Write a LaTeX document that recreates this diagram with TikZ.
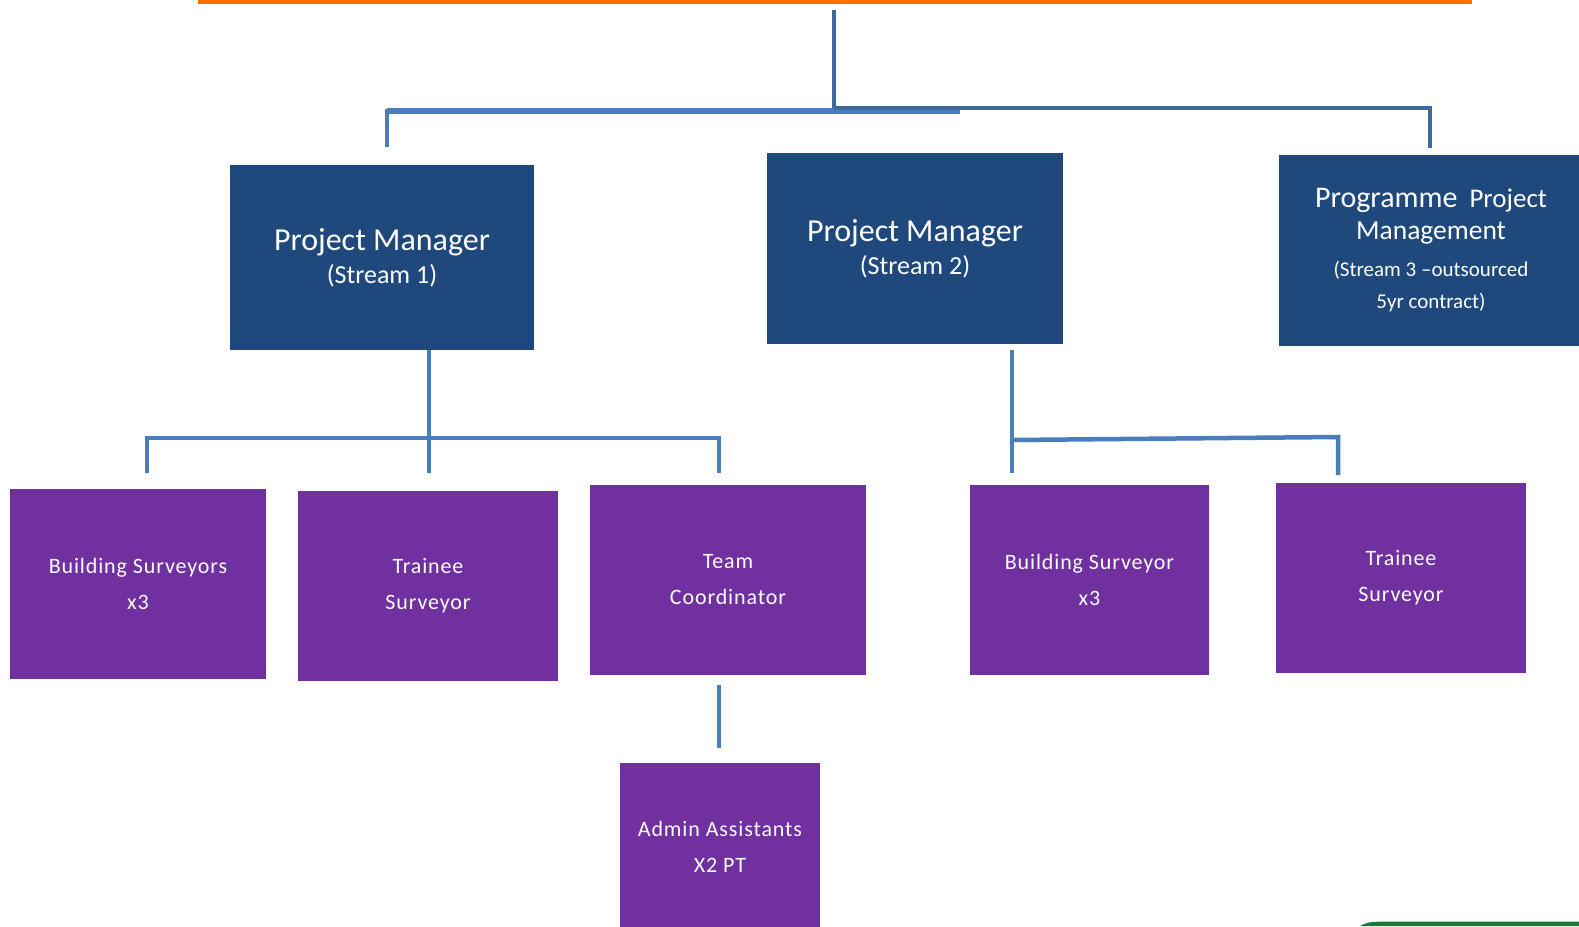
\documentclass[tikz,border=0pt]{standalone}
\usepackage{fontspec}
\setmainfont{Carlito}
\newfontfamily\boxfont{Carlito}[LetterSpace=4]
\definecolor{dblue}{HTML}{1F497D}
\definecolor{purp}{HTML}{7030A0}
\definecolor{lblue}{HTML}{4A7EBB}
\definecolor{mblue}{HTML}{3D6A9C}
\definecolor{orng}{HTML}{FF7000}
\definecolor{grn}{HTML}{1E7A3C}
\begin{document}
\begin{tikzpicture}[x=1pt,y=-1pt,
  bluebox/.style={rectangle, fill=dblue, draw=none, text=white, align=center, inner sep=0pt,
    font=\fontsize{26}{33}\selectfont},
  purplebox/.style={rectangle, fill=purp, draw=none, text=white, align=center, inner sep=0pt,
    font=\boxfont\fontsize{22}{36}\selectfont},
  lconn/.style={draw=lblue, line width=4.5pt},
  mconn/.style={draw=mblue, line width=4pt}]
\useasboundingbox (0,0) rectangle (1579,926);
% orange top rule
\fill[orng] (198,0) rectangle (1472,3.5);
% green fragment bottom right
\fill[grn] (1360,926) .. controls (1368,922) .. (1385,921.5) -- (1579,921.5) -- (1579,926) -- cycle;

% boxes
\node[bluebox, minimum width=304pt, minimum height=185pt] (pm1) at (382,257.5)
  {{\fontsize{32}{33}\selectfont Project Manager}\\(Stream 1)};
\node[bluebox, minimum width=296pt, minimum height=191pt] (pm2) at (915,248.5)
  {{\fontsize{32}{33}\selectfont Project Manager}\\(Stream 2)};
\node[bluebox, minimum width=304pt, minimum height=191pt, font=\fontsize{21}{32}\selectfont] (ppm) at (1431,250.5)
  {{\fontsize{30}{34}\selectfont Programme}\hspace{12pt}{\fontsize{27}{34}\selectfont Project}\\
   {\fontsize{27.5}{34}\selectfont Management}\\[5pt]
   (Stream 3 –outsourced\\5yr contract)};
\node[purplebox, minimum width=256pt, minimum height=190pt] (bs1) at (138,584) {Building Surveyors\\x3};
\node[purplebox, minimum width=260pt, minimum height=190pt] (tr1) at (428,586) {Trainee\\Surveyor};
\node[purplebox, minimum width=276pt, minimum height=190pt] (tc) at (728,580) {Team\\Coordinator};
\node[purplebox, minimum width=200pt, minimum height=168pt] (adm) at (720,847) {Admin Assistants\\X2 PT};
\node[purplebox, minimum width=239pt, minimum height=190pt] (bs2) at (1089.5,580) {Building Surveyor\\x3};
\node[purplebox, minimum width=250pt, minimum height=190pt] (tr2) at (1401,578) {Trainee\\Surveyor};

% top connectors
\coordinate (top) at (834,10);
\coordinate (topj) at (834,109);
\coordinate (lend) at (960,111);
\coordinate (lcorner) at (387,111);
\coordinate (ldrop) at (387,145);
\coordinate (rcorner) at (1430,108);
\coordinate (rdrop) at (1430,148);
\draw[mconn] (top) -- (topj);
\draw[lconn, line width=5.5pt] (lend) -- (lcorner);
\draw[lconn, line cap=rect] (lcorner) -- (ldrop);
\draw[mconn] (topj |- rcorner) -- (rcorner) -- (rdrop);

% stream 1 connectors
\coordinate (s1a) at (429,438);
\coordinate (s1l) at (147,438);
\coordinate (s1r) at (719,438);
\draw[lconn] (pm1.south -| s1a) -- (429,473);
\draw[lconn] (147,473) -- (s1l) -- (s1r) -- (719,473);

% stream 2 connectors
\coordinate (s2a) at (1012,440);
\coordinate (s2r) at (1338,437);
\draw[lconn] (1012,350) -- (1012,473);
\draw[lconn] (s2a) -- (s2r) -- (1338,475);

% team coordinator to admin
\draw[lconn] (719,685) -- (719,748);
\end{tikzpicture}
\end{document}
